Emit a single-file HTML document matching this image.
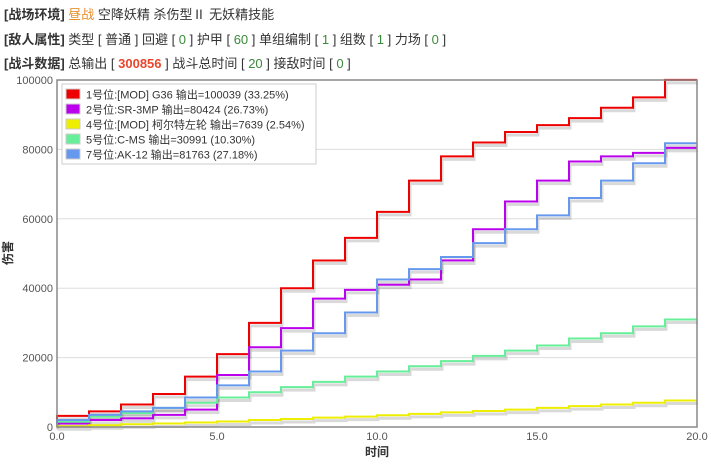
<!DOCTYPE html>
<html><head><meta charset="utf-8"><style>
body{margin:0;width:711px;height:465px;overflow:hidden;background:#fff;font-family:"Liberation Sans","Noto Sans CJK SC",sans-serif;}
.hd{position:absolute;left:4px;font-size:13px;color:#333;white-space:nowrap;z-index:5;}
.hd b{color:#333}
.g{color:#3a8a3a}
</style></head><body>
<svg id="chart" width="711" height="465" style="position:absolute;left:0;top:0"></svg>
<div class="hd" style="top:4px"><b>[战场环境]</b> <span style="color:#e8912c">昼战</span> 空降妖精 杀伤型Ⅱ 无妖精技能</div>
<div class="hd" style="top:29px"><b>[敌人属性]</b> 类型 [ 普通 ] 回避 [ <span class="g">0</span> ] 护甲 [ <span class="g">60</span> ] 单组编制 [ <span class="g">1</span> ] 组数 [ <span class="g">1</span> ] 力场 [ <span class="g">0</span> ]</div>
<div class="hd" style="top:53px"><b>[战斗数据]</b> 总输出 [ <b style="color:#e8472c">300856</b> ] 战斗总时间 [ <span class="g">20</span> ] 接敌时间 [ <span class="g">0</span> ]</div>
<script>
const times=[0,1,2,3,4,5,6,7,8,9,10,11,12,13,14,15,16,17,18,19,20];
const names=["1号位:[MOD] G36  输出=100039 (33.25%)","2号位:SR-3MP  输出=80424 (26.73%)","4号位:[MOD] 柯尔特左轮  输出=7639 (2.54%)","5号位:C-MS  输出=30991 (10.30%)","7号位:AK-12  输出=81763 (27.18%)"];
const colors=["#ee0000","#bb00ee","#eeee00","#66ee99","#6699ee"];
const red=[800,3200,4500,6500,9500,14500,21000,30000,40000,48000,54500,62000,71000,78000,82000,85000,87000,89000,92000,95000,100039];
const purple=[500,1000,2000,2500,3500,5000,15000,23000,28500,37000,39500,41000,42500,48000,57000,65000,71000,76500,78000,79000,80424];
const yellow=[0,200,500,800,1000,1300,1600,2000,2300,2700,3000,3400,3800,4200,4600,5000,5500,6000,6500,7000,7639];
const green=[500,1500,3000,4000,5500,7000,8500,10000,11500,13000,14500,16000,17500,19000,20500,22000,23500,25500,27000,29000,30991];
const blue=[800,2000,3500,4500,5500,8500,12000,16000,22000,27000,33000,42500,45500,49000,53000,57000,61000,66000,71000,76000,81763];
const yTicks=[0,20000,40000,60000,80000,100000];
const xTicks=[0,5,10,15,20];
const X0=57,X1=697,Y0=427,Y1=80;
const xs=t=>X0+t/20*(X1-X0), ys=v=>Y0-v/100000*(Y0-Y1);
const svg=document.getElementById('chart');const NS="http://www.w3.org/2000/svg";
function mk(tag,at,p){const e=document.createElementNS(NS,tag);for(const k in at)e.setAttribute(k,at[k]);(p||svg).appendChild(e);return e;}
yTicks.forEach(v=>{
 const l=mk('line',{x1:X0,x2:X1,y1:ys(v),y2:ys(v),stroke:'#ddd'});
 
 
 const t=mk('text',{x:X0-4,y:ys(v)+4,'text-anchor':'end','font-size':11,fill:'#555'});t.textContent=v;
 
 
});
xTicks.forEach(v=>{
 const t=mk('text',{x:xs(v),y:Y0+13,'text-anchor':'middle','font-size':11,fill:'#555'});t.textContent=v.toFixed(1);
 
 
});
const series=[red,purple,yellow,green,blue];
function stepPath(d){let p='M'+xs(times[0])+','+ys(d[0]);for(let i=1;i<d.length;i++){p+='V'+ys(d[i])+'H'+xs(times[i]);}return p;}
series.forEach((d,i)=>{
 const sh=mk('path',{d:stepPath(d),fill:'none',stroke:'rgba(0,0,0,0.15)','stroke-width':3,transform:'translate(1,3)'});
 
 
});
series.forEach((d,i)=>{
 const p=mk('path',{d:stepPath(d),fill:'none',stroke:colors[i],'stroke-width':2});
 
 
});
const fr=mk('rect',{x:X0,y:Y1,width:X1-X0,height:Y0-Y1,fill:'none',stroke:'#888','stroke-width':1.5});


mk('rect',{x:0,y:0,width:711,height:76,fill:'#fff'});
const lg=mk('rect',{x:62,y:84,width:254,height:80,fill:'#fff',stroke:'#ccc'});


names.forEach((n,i)=>{
 const y=89+i*15;
 const r=mk('rect',{x:66,y:y,width:14,height:10,fill:colors[i],stroke:'#ccc'});
 
 
 const t=mk('text',{x:86,y:y+9.5,'font-size':11,fill:'#333'});t.textContent=n;
 
 
});
const xl=mk('text',{x:(X0+X1)/2,y:456,'text-anchor':'middle','font-size':12,'font-weight':'bold',fill:'#333'});xl.textContent='时间';


const yl=mk('text',{x:12,y:253,'text-anchor':'middle','font-size':12,'font-weight':'bold',fill:'#333',transform:'rotate(-90 12 253)'});yl.textContent='伤害';


</script>
</body></html>
